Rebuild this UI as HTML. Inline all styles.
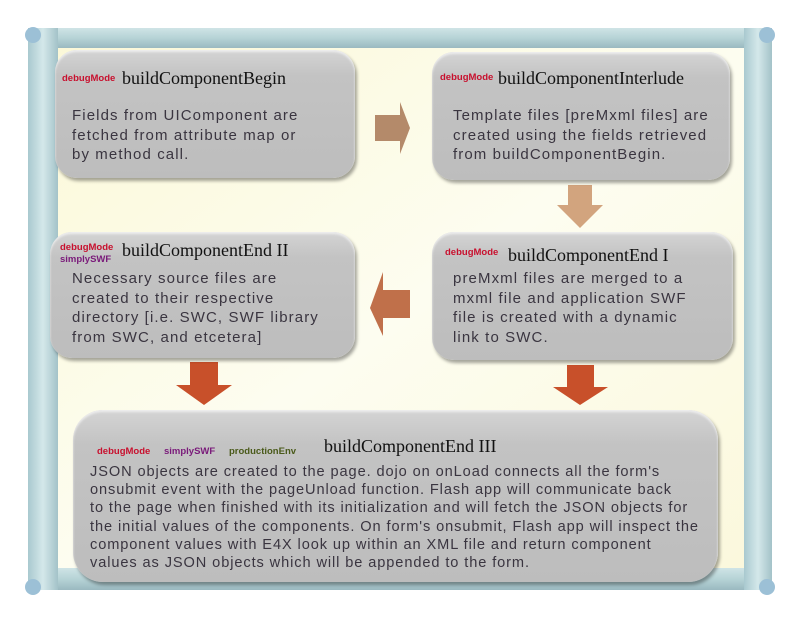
<!DOCTYPE html>
<html><head><meta charset="utf-8"><style>
html,body{margin:0;padding:0;background:#fff;}
#c{position:relative;width:800px;height:618px;overflow:hidden;background:#fff;font-family:"DejaVu Sans","Liberation Sans",sans-serif;}
.box{position:absolute;background:linear-gradient(#d4d4d4,#c3c3c3 20%,#bdbdbd);border-radius:22px;box-shadow:2px 3px 3px rgba(0,0,0,.35), inset 0 2px 2px #eee;color:#333;}
.t{position:absolute;font-family:"Liberation Serif",serif;font-size:18px;color:#111;white-space:nowrap;}
.p{position:absolute;font-size:15px;line-height:19.5px;color:#3a3540;white-space:nowrap;font-family:"Liberation Sans",sans-serif;letter-spacing:1.1px;}
.tag{position:absolute;font-family:"Liberation Sans",sans-serif;font-weight:bold;font-size:9.5px;white-space:nowrap;}
.r{color:#c8102e}.pu{color:#7a1a7a}.g{color:#4a5a1a}
</style></head><body><div id="c">
<svg width="800" height="618" style="position:absolute;left:0;top:0">
<defs>
<linearGradient id="bg" x1="0" y1="0" x2="1" y2="1"><stop offset="0" stop-color="#fbf8d8"/><stop offset=".5" stop-color="#fdfdf0"/><stop offset="1" stop-color="#fbf8dc"/></linearGradient>
<linearGradient id="hb" x1="0" y1="0" x2="0" y2="1"><stop offset="0" stop-color="#cfe4e6"/><stop offset=".5" stop-color="#b6d3d6"/><stop offset="1" stop-color="#9ab9c0"/></linearGradient>
<linearGradient id="vb" x1="0" y1="0" x2="1" y2="0"><stop offset="0" stop-color="#a9c9cf"/><stop offset=".5" stop-color="#d4e8ea"/><stop offset="1" stop-color="#a3c2c8"/></linearGradient>
</defs>
<rect x="55" y="45" width="700" height="530" fill="url(#bg)"/>
<rect x="30" y="28" width="740" height="20" fill="url(#hb)"/>
<rect x="30" y="568" width="740" height="22" fill="url(#hb)"/>
<rect x="28" y="28" width="30" height="562" fill="url(#vb)"/>
<rect x="744" y="28" width="28" height="562" fill="url(#vb)"/>
<circle cx="33" cy="35" r="8" fill="#9cc0d6"/><circle cx="767" cy="35" r="8" fill="#9cc0d6"/>
<circle cx="33" cy="587" r="8" fill="#9cc0d6"/><circle cx="767" cy="587" r="8" fill="#9cc0d6"/>
<polygon points="375,115 400,115 400,102 410,128 400,154 400,141 375,141" fill="#b48a6a"/>
<polygon points="568,185 592,185 592,205 603,205 580,228 557,205 568,205" fill="#d2a47e"/>
<polygon points="410,290 383,290 383,272 370,308 383,336 383,318 410,318" fill="#c0704a"/>
<polygon points="190,362 218,362 218,385 232,385 204,405 176,385 190,385" fill="#c8502a"/>
<polygon points="567,365 594,365 594,387 608,387 580,405 553,387 567,387" fill="#c8502a"/>
</svg>
<div class="box" style="left:55px;top:50px;width:300px;height:128px"></div>
<div class="tag r" style="left:62px;top:73px">debugMode</div>
<div class="t" style="left:122px;top:68px">buildComponentBegin</div>
<div class="p" style="left:72px;top:106px">Fields from UIComponent are<br>fetched from attribute map or<br>by method call.</div>

<div class="box" style="left:432px;top:52px;width:298px;height:128px"></div>
<div class="tag r" style="left:440px;top:72px">debugMode</div>
<div class="t" style="left:498px;top:68px">buildComponentInterlude</div>
<div class="p" style="left:453px;top:106px">Template files [preMxml files] are<br>created using the fields retrieved<br>from buildComponentBegin.</div>

<div class="box" style="left:50px;top:232px;width:305px;height:126px"></div>
<div class="tag r" style="left:60px;top:242px">debugMode</div>
<div class="tag pu" style="left:60px;top:254px">simplySWF</div>
<div class="t" style="left:122px;top:240px">buildComponentEnd II</div>
<div class="p" style="left:72px;top:269px">Necessary source files are<br>created to their respective<br>directory [i.e. SWC, SWF library<br>from SWC, and etcetera]</div>

<div class="box" style="left:432px;top:232px;width:301px;height:128px"></div>
<div class="tag r" style="left:445px;top:247px">debugMode</div>
<div class="t" style="left:508px;top:245px">buildComponentEnd I</div>
<div class="p" style="left:453px;top:269px">preMxml files are merged to a<br>mxml file and application SWF<br>file is created with a dynamic<br>link to SWC.</div>

<div class="box" style="left:73px;top:410px;width:645px;height:172px;border-radius:30px"></div>
<div class="tag r" style="left:97px;top:446px">debugMode</div>
<div class="tag pu" style="left:164px;top:446px">simplySWF</div>
<div class="tag g" style="left:229px;top:446px">productionEnv</div>
<div class="t" style="left:324px;top:436px">buildComponentEnd III</div>
<div class="p" style="left:90px;top:463px;font-size:14.6px;line-height:18.2px;letter-spacing:0.9px">JSON objects are created to the page. dojo on onLoad connects all the form's<br>onsubmit event with the pageUnload function. Flash app will communicate back<br>to the page when finished with its initialization and will fetch the JSON objects for<br>the initial values of the components. On form's onsubmit, Flash app will inspect the<br>component values with E4X look up within an XML file and return component<br>values as JSON objects which will be appended to the form.</div>
</div></body></html>
